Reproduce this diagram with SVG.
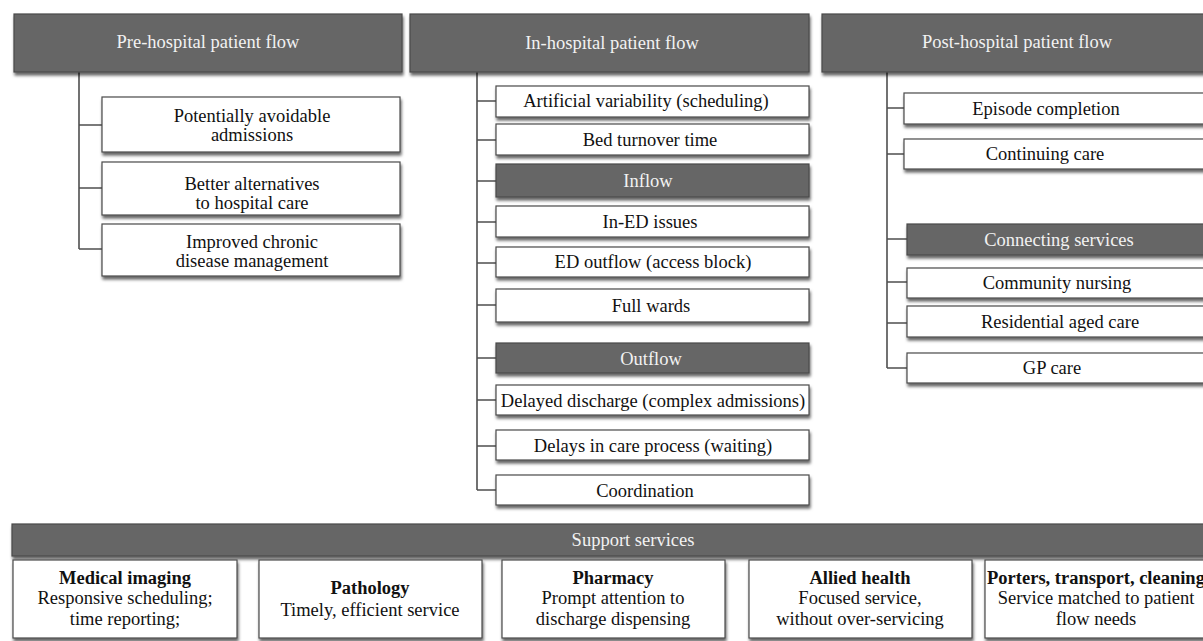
<svg xmlns="http://www.w3.org/2000/svg" width="1203" height="641" viewBox="0 0 1203 641">
<defs>
<filter id="sh" x="-5%" y="-20%" width="110%" height="160%">
<feDropShadow dx="1" dy="3" stdDeviation="1.6" flood-color="#000" flood-opacity="0.6"/>
</filter>
</defs>
<style>
.lt{fill:#fff;stroke:#4a4a4a;stroke-width:1.2;filter:url(#sh)}
.dk{fill:#666;stroke:#4a4a4a;stroke-width:1.2;filter:url(#sh)}
text{font-family:"Liberation Serif","Times New Roman",serif;font-size:18.5px;text-anchor:middle;fill:#111}
.w{fill:#f2f2f2}
.b{font-weight:bold}
.cn{stroke:#4f4f4f;stroke-width:1.6;fill:none}
</style>
<rect width="1203" height="641" fill="#fff"/>
<g id="connectors">
<path class="cn" d="M79 72V249M79 125H102M79 188H102M79 249H102"/>
<path class="cn" d="M477 72V490M477 101H496M477 140H496M477 181H496M477 222H496M477 263H496M477 305H496M477 358H496M477 400H496M477 446H496M477 490H496"/>
<path class="cn" d="M887 72V368M887 108H904M887 154H904M887 239H907M887 282H907M887 323H907M887 368H907"/>
</g>
<g id="pre-hospital"><rect class="dk" x="14" y="14" width="388" height="58"/><text class="w" x="208" y="48">Pre-hospital patient flow</text></g>
<g id="pre1"><rect class="lt" x="102" y="97" width="298" height="55"/><text x="252" y="122">Potentially avoidable</text><text x="252" y="141">admissions</text></g>
<g id="pre2"><rect class="lt" x="102" y="162" width="298" height="53"/><text x="252" y="190">Better alternatives</text><text x="252" y="209">to hospital care</text></g>
<g id="pre3"><rect class="lt" x="102" y="224" width="298" height="52"/><text x="252" y="248">Improved chronic</text><text x="252" y="267">disease management</text></g>

<g id="in-hospital"><rect class="dk" x="410" y="14" width="399" height="58"/><text class="w" x="612" y="49">In-hospital patient flow</text></g>
<g id="in1"><rect class="lt" x="496" y="86" width="313" height="31"/><text x="646" y="107">Artificial variability (scheduling)</text></g>
<g id="in2"><rect class="lt" x="496" y="124" width="313" height="31"/><text x="650" y="146">Bed turnover time</text></g>
<g id="inflow"><rect class="dk" x="496" y="164" width="313" height="33"/><text class="w" x="648" y="187">Inflow</text></g>
<g id="in3"><rect class="lt" x="496" y="206" width="313" height="31"/><text x="650" y="228">In-ED issues</text></g>
<g id="in4"><rect class="lt" x="496" y="247" width="313" height="30"/><text x="653" y="268">ED outflow (access block)</text></g>
<g id="in5"><rect class="lt" x="496" y="289" width="313" height="33"/><text x="651" y="312">Full wards</text></g>
<g id="outflow"><rect class="dk" x="496" y="343" width="313" height="30"/><text class="w" x="651" y="365">Outflow</text></g>
<g id="in6"><rect class="lt" x="496" y="385" width="313" height="30"/><text x="653" y="407">Delayed discharge (complex admissions)</text></g>
<g id="in7"><rect class="lt" x="496" y="430" width="313" height="30"/><text x="653" y="452">Delays in care process (waiting)</text></g>
<g id="in8"><rect class="lt" x="496" y="475" width="313" height="30"/><text x="645" y="497">Coordination</text></g>

<g id="post-hospital"><rect class="dk" x="822" y="14" width="393" height="58"/><text class="w" x="1017" y="48">Post-hospital patient flow</text></g>
<g id="post1"><rect class="lt" x="904" y="93" width="310" height="31"/><text x="1046" y="115">Episode completion</text></g>
<g id="post2"><rect class="lt" x="904" y="139" width="310" height="30"/><text x="1045" y="160">Continuing care</text></g>
<g id="connecting"><rect class="dk" x="907" y="224" width="310" height="31"/><text class="w" x="1059" y="246">Connecting services</text></g>
<g id="post3"><rect class="lt" x="907" y="268" width="310" height="30"/><text x="1057" y="289">Community nursing</text></g>
<g id="post4"><rect class="lt" x="907" y="306" width="310" height="31"/><text x="1060" y="328">Residential aged care</text></g>
<g id="post5"><rect class="lt" x="907" y="353" width="310" height="30"/><text x="1052" y="374">GP care</text></g>

<g id="support"><rect class="dk" x="12" y="524" width="1205" height="32"/><text class="w" x="633" y="546">Support services</text></g>
<g id="s1"><rect class="lt" x="13" y="560" width="224" height="78"/><text class="b" x="125" y="584">Medical imaging</text><text x="125" y="604">Responsive scheduling;</text><text x="125" y="625">time reporting;</text></g>
<g id="s2"><rect class="lt" x="259" y="560" width="223" height="78"/><text class="b" x="370" y="594">Pathology</text><text x="370" y="616">Timely, efficient service</text></g>
<g id="s3"><rect class="lt" x="502" y="560" width="223" height="78"/><text class="b" x="613" y="584">Pharmacy</text><text x="613" y="604">Prompt attention to</text><text x="613" y="625">discharge dispensing</text></g>
<g id="s4"><rect class="lt" x="749" y="560" width="223" height="78"/><text class="b" x="860" y="584">Allied health</text><text x="860" y="604">Focused service,</text><text x="860" y="625">without over-servicing</text></g>
<g id="s5"><rect class="lt" x="985" y="560" width="230" height="78"/><text class="b" x="1096" y="584">Porters, transport, cleaning</text><text x="1096" y="604">Service matched to patient</text><text x="1096" y="625">flow needs</text></g>
</svg>
